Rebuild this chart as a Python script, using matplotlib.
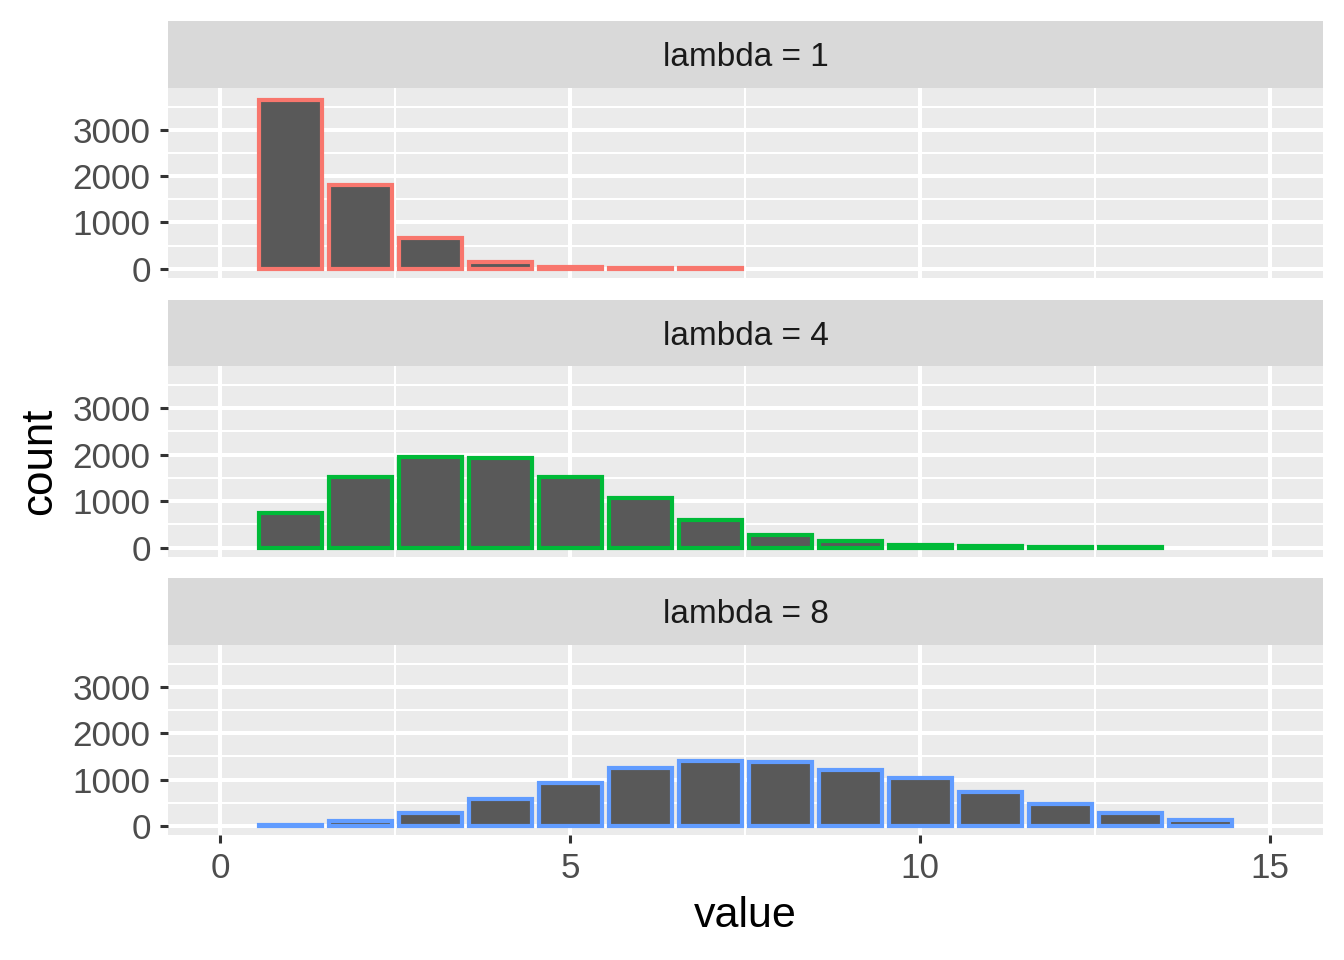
import matplotlib
matplotlib.use("Agg")
import matplotlib.pyplot as plt

plt.rcParams['font.family'] = ['Liberation Sans', 'DejaVu Sans']

# --- datos ---
lambdas = [1, 4, 8]
valores_l1 = [1, 2, 3, 4, 5, 6, 7]
conteos_l1 = [3645, 1800, 655, 140, 42, 16, 8]
valores_l4 = [1, 2, 3, 4, 5, 6, 7, 8, 9, 10, 11, 12, 13]
conteos_l4 = [754, 1529, 1952, 1930, 1529, 1070, 589, 280, 136, 57, 29, 15, 12]
valores_l8 = [1, 2, 3, 4, 5, 6, 7, 8, 9, 10, 11, 12, 13, 14]
conteos_l8 = [25, 108, 280, 581, 919, 1256, 1407, 1378, 1198, 1026, 732, 474, 280, 129]
colores = ['#F8766D', '#00BA38', '#619CFF']

datos = [(valores_l1, conteos_l1), (valores_l4, conteos_l4), (valores_l8, conteos_l8)]

W, H = 1344, 960
fig = plt.figure(figsize=(6.72, 4.8), dpi=200)

izq, der = 168 / W, 1323 / W
# (top strip, bottom strip/top panel, bottom panel) en pixeles
filas = [(21, 88, 277.7), (300, 366, 556.7), (578, 645, 835)]

for k, (lam, (xs, ys), col, (ts, tp, bp)) in enumerate(zip(lambdas, datos, colores, filas)):
    # tira con el titulo del panel
    ax_s = fig.add_axes([izq, 1 - tp / H, der - izq, (tp - ts) / H])
    ax_s.set_facecolor('#D9D9D9')
    ax_s.set_xticks([])
    ax_s.set_yticks([])
    for s in ax_s.spines.values():
        s.set_visible(False)
    ax_s.text(0.5, 0.45, f"lambda = {lam}", ha='center', va='center',
              fontsize=12, color='#1A1A1A', transform=ax_s.transAxes)

    ax = fig.add_axes([izq, 1 - bp / H, der - izq, (bp - tp) / H])
    ax.set_facecolor('#EBEBEB')
    ax.set_axisbelow(True)
    ax.bar(xs, ys, width=0.9, color='#595959', edgecolor=col, linewidth=1.5)
    ax.set_xlim(-0.744, 15.757)
    ax.set_ylim(-195, 3905)
    ax.set_xticks([0, 5, 10, 15])
    ax.set_xticks([2.5, 7.5, 12.5], minor=True)
    ax.set_yticks([0, 1000, 2000, 3000])
    ax.set_yticks([500, 1500, 2500, 3500], minor=True)
    ax.grid(which='major', color='white', linewidth=1.45)
    ax.grid(which='minor', color='white', linewidth=0.72)
    for s in ax.spines.values():
        s.set_visible(False)
    ax.tick_params(which='minor', length=0)
    ax.tick_params(which='major', length=2.75, width=1.1, color='#333333',
                   labelsize=12.6, labelcolor='#4D4D4D', pad=3.5)
    if k < 2:
        ax.tick_params(axis='x', which='both', bottom=False, labelbottom=False)

fig.text(izq + (der - izq) / 2, 1 - 916 / H, "value", ha='center', va='center',
         fontsize=15.5, color='black')
fig.text(40 / W, 1 - 461 / H, "count", ha='center', va='center', rotation=90,
         fontsize=15.8, color='black')

fig.savefig("out.png", dpi=200, facecolor='white')
